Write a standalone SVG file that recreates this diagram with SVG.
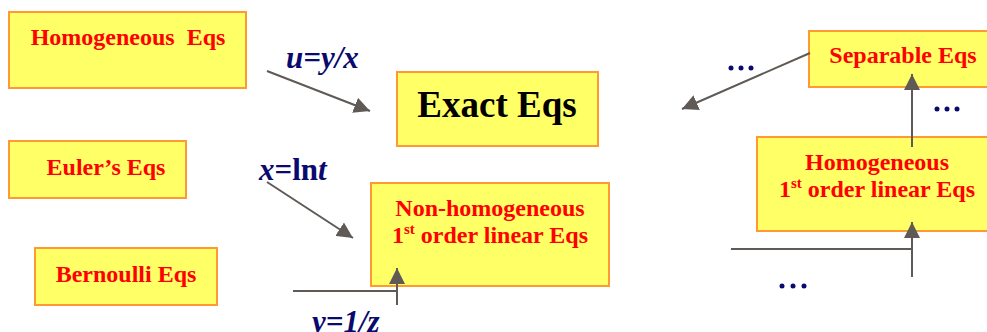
<svg xmlns="http://www.w3.org/2000/svg" width="987" height="332" viewBox="0 0 987 332">
<style>
.box{fill:#FFFF66;stroke:#FF9933;stroke-width:2}
.rt{font-family:"Liberation Serif",serif;font-weight:bold;fill:#FF0000;font-size:24px;text-anchor:middle}
.bt{font-family:"Liberation Serif",serif;font-weight:bold;fill:#000000;font-size:37px;text-anchor:middle}
.nv{font-family:"Liberation Serif",serif;font-weight:bold;font-style:italic;fill:#0A0A6E;font-size:31px}
.ln{stroke:#5F5A55;stroke-width:2;fill:none}
.dots{fill:#0A0A6E}
</style>
<defs>
<marker id="a" viewBox="0 0 10 10" refX="10" refY="5" markerWidth="8" markerHeight="8" orient="auto">
<path d="M0,0 L10,5 L0,10 z" fill="#5F5A55"/>
</marker>
</defs>
<g id="homogeneous"><rect class="box" x="9" y="12" width="237" height="76"/><text class="rt" x="128" y="45" xml:space="preserve">Homogeneous  Eqs</text></g>
<g id="exact"><rect class="box" x="397" y="72" width="201" height="74"/><text class="bt" x="497" y="117">Exact Eqs</text></g>
<g id="euler"><rect class="box" x="9" y="141" width="177" height="57"/><text class="rt" x="106" y="175">Euler’s Eqs</text></g>
<g id="bernoulli"><rect class="box" x="35" y="248" width="182" height="57"/><text class="rt" x="126" y="282">Bernoulli Eqs</text></g>
<g id="nonhom"><rect class="box" x="371" y="183" width="238" height="103"/><text class="rt" x="490" y="216">Non-homogeneous</text><text class="rt" x="490" y="243">1<tspan font-size="15" dy="-9">st</tspan><tspan dy="9"> order linear Eqs</tspan></text></g>
<g id="separable"><rect class="box" x="809" y="31" width="180" height="56"/><text class="rt" x="903" y="63">Separable Eqs</text></g>
<g id="homfirst"><rect class="box" x="757" y="137" width="232" height="94"/><text class="rt" x="877" y="170">Homogeneous</text><text class="rt" x="877" y="197">1<tspan font-size="15" dy="-9">st</tspan><tspan dy="9"> order linear Eqs</tspan></text></g>
<g id="connectors">
<path class="ln" d="M267,71 L370,111" marker-end="url(#a)"/>
<path class="ln" d="M267,182 L353,238" marker-end="url(#a)"/>
<path class="ln" d="M293,291 L397,291"/>
<path class="ln" d="M397,305 L397,268" marker-end="url(#a)"/>
<path class="ln" d="M810,53 L682,109" marker-end="url(#a)"/>
<path class="ln" d="M912,147 L912,74" marker-end="url(#a)"/>
<path class="ln" d="M731,249 L912,249"/>
<path class="ln" d="M912,277 L912,222" marker-end="url(#a)"/>
</g>
<g id="labels">
<text class="nv" x="286" y="68">u=y/x</text>
<text class="nv" x="259" y="180">x<tspan font-style="normal">=ln</tspan>t</text>
<text class="nv" x="312" y="332">y=1/z</text>
<g class="dots"><circle cx="731" cy="68" r="2.5"/><circle cx="741" cy="68" r="2.5"/><circle cx="751" cy="68" r="2.5"/>
<circle cx="937" cy="109" r="2.5"/><circle cx="947" cy="109" r="2.5"/><circle cx="957" cy="109" r="2.5"/>
<circle cx="782" cy="286" r="2.5"/><circle cx="793" cy="286" r="2.5"/><circle cx="804" cy="286" r="2.5"/></g>
</g>
</svg>
